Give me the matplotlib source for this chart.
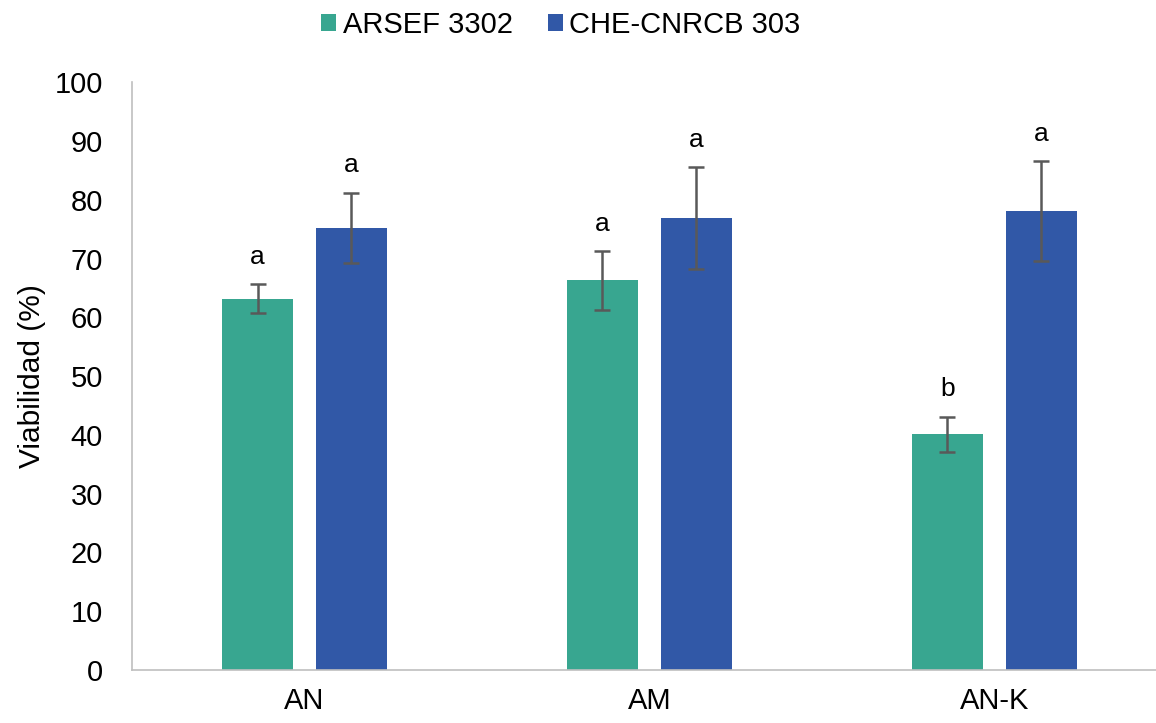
import numpy as np
import matplotlib.pyplot as plt

plt.rcParams['font.family'] = ['Liberation Sans', 'DejaVu Sans']

categories = ['AN', 'AM', 'AN-K']
series = ['ARSEF 3302', 'CHE-CNRCB 303']
arsef = [63.2, 66.3, 40.1]
arsef_err = [2.4, 5.0, 3.0]
che = [75.2, 76.9, 78.1]
che_err = [6.0, 8.7, 8.5]
letters_arsef = ['a', 'a', 'b']
letters_che = ['a', 'a', 'a']

colors = ['#38A690', '#3158A7']

fig = plt.figure(figsize=(11.56, 7.23), dpi=100)
ax = fig.add_axes([0.1142, 0.0733, 0.895, 0.813])

x = np.arange(len(categories))
width = 0.206
offset = 0.136

for vals, errs, letters, color, label, sign in [
    (arsef, arsef_err, letters_arsef, colors[0], series[0], -1),
    (che, che_err, letters_che, colors[1], series[1], 1),
]:
    pos = x + sign * offset
    ax.bar(pos, vals, width, color=color, label=label, zorder=2)
    ax.errorbar(pos, vals, yerr=errs, fmt='none', ecolor='#595959',
                elinewidth=1.8, capsize=6, capthick=1.8, zorder=3)
    for p, v, e, t in zip(pos, vals, errs, letters):
        ax.text(p, v + e + 2.6, t, ha='center', va='bottom', fontsize=19)

ax.set_xlim(-0.5, 2.5)
ax.set_ylim(0, 100)
ax.set_yticks(np.arange(0, 101, 10))
ax.set_xticks(x)
ax.set_xticklabels(categories)
ax.tick_params(axis='both', length=0, labelsize=21)
ax.tick_params(axis='y', pad=21)
ax.tick_params(axis='x', pad=12)
ax.set_ylabel('Viabilidad (%)', fontsize=21.5, labelpad=6)

for side in ['top', 'right']:
    ax.spines[side].set_visible(False)
for side in ['left', 'bottom']:
    ax.spines[side].set_color('#BFBFBF')
    ax.spines[side].set_linewidth(1.2)

ax.legend(loc='center', bbox_to_anchor=(0.485, 1 - 25 / 723), bbox_transform=fig.transFigure,
          ncol=2, frameon=False, fontsize=21, handlelength=0.52, handleheight=0.52,
          handletextpad=0.22, columnspacing=1.2, borderaxespad=0, borderpad=0)

fig.savefig('out.png', dpi=100)
